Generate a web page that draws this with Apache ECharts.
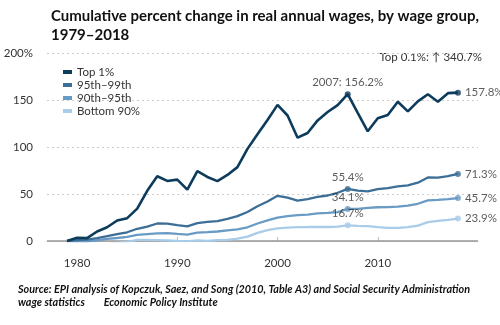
<!DOCTYPE html>
<html><head><meta charset="utf-8">
<script src="https://cdn.jsdelivr.net/npm/echarts@6/dist/echarts.min.js"></script>
<style>html,body{margin:0;padding:0;background:#fff}#c{width:500px;height:325px}</style>
</head><body><div id="c"></div>
<script>
const years = [];
for (let y = 1979; y <= 2018; y++) years.push(y);
const top1 = [0,3.5,3.1,10.1,14.6,21.8,24.3,34.4,53.4,68.9,63.9,65.3,54.7,74.3,68.1,63.7,70.3,78.6,98.0,113.5,128.8,144.8,133.5,109.9,114.9,128.3,137.2,144.6,156.2,136.2,116.7,130.5,134.1,148.2,137.9,148.6,156.1,148.2,157.3,157.8];
const p95_99 = [0,0.9,1.5,3.0,5.1,7.4,9.3,13.0,15.3,18.6,18.4,16.9,15.6,19.1,20.4,21.2,23.6,26.5,30.9,37.0,42.0,48.1,46.2,42.9,44.5,46.9,48.4,51.3,55.4,53.6,52.9,55.1,56.3,58.0,59.2,62.0,67.6,67.5,69.0,71.3];
const p90_95 = [0,-0.5,-0.5,0.8,2.2,3.2,4.5,6.6,7.4,8.2,8.3,7.5,6.8,8.9,9.4,10.1,11.4,12.4,14.6,18.6,21.9,24.9,26.4,27.6,28.0,29.4,29.9,30.7,34.1,34.1,35.3,35.9,36.1,36.6,37.6,39.6,43.3,43.7,44.5,45.7];
const bottom90 = [0,-1.6,-2.3,-3.3,-3.5,-1.9,-0.9,1.1,1.1,1.0,0.6,0.0,-0.4,0.7,0.2,0.9,1.3,2.6,4.6,8.6,11.5,13.5,14.3,14.8,14.9,15.1,14.9,15.2,16.7,16.0,15.9,14.7,14.0,14.0,14.7,16.3,20.1,21.3,22.5,23.9];
const seriesNames = ['Top 1%','95th\u201399th','90th\u201395th','Bottom 90%'];
const xTicks = [1980,1990,2000,2010];
const yTicks = [0,50,100,150,200];
const colors = ['#0d3b5c','#3d6e95','#6a9bc4','#a9cce9'];
const widths = [2.6,2.3,2.3,2.3];
const allData = [top1,p95_99,p90_95,bottom90];

const font = 'Lato, "Open Sans", sans-serif';
const chart = echarts.init(document.getElementById('c'), null, {renderer:'canvas'});
const series = [];
allData.forEach((arr,i)=>{
  series.push({
    name: seriesNames[i], type:'line', data: years.map((y,k)=>[y,arr[k]]),
    symbol:'none', lineStyle:{color:colors[i], width:widths[i]}, itemStyle:{color:colors[i]},
    z: 10-i, animation:false
  });
});
const idx2007 = years.indexOf(2007), idxEnd = years.length-1;
allData.forEach((arr,i)=>{
  series.push({
    type:'scatter', symbol:'circle', symbolSize:6, itemStyle:{color:colors[i]}, z:20, animation:false,
    data:[
      {value:[2007,arr[idx2007]], label:{show:true, position:'top', distance:3,
        formatter: i===0 ? '2007: ' + arr[idx2007].toFixed(1) + '%' : arr[idx2007].toFixed(1) + '%'}},
      {value:[2018,arr[idxEnd]], label:{show:true, position:'right', distance:4,
        formatter: arr[idxEnd].toFixed(1) + '%'}}
    ],
    label:{color:'#333', fontSize:11.5, fontFamily:font}
  });
});
series[0].markLine = {silent:true, symbol:'none', label:{show:false},
  lineStyle:{color:'#999', type:'solid', width:1.5}, data:[{yAxis:0}], z:1};

chart.setOption({
  animation:false,
  color: colors,
  title:{
    text:'Cumulative percent change in real annual wages, by wage group,\n1979\u20132018',
    left:46, top:2,
    textStyle:{fontFamily:'Lato, sans-serif', fontWeight:'bold', fontSize:15, color:'#111', lineHeight:19}
  },
  legend:{
    data: seriesNames, orient:'vertical', left:58, top:61, itemGap:1,
    itemWidth:9, itemHeight:4, icon:'rect',
    textStyle:{fontFamily:font, fontSize:11.5, color:'#333'}
  },
  grid:{left:47, right:22, top:53, bottom:84},
  xAxis:{
    type:'value', min:1977, max:2020, offset:10,
    axisLine:{show:true, lineStyle:{color:'#ccc', type:'dotted', width:1}},
    axisTick:{show:true, customValues:xTicks, length:4, inside:true, lineStyle:{color:'#bbb'}},
    axisLabel:{customValues:xTicks, fontFamily:font, fontSize:11.5, color:'#333', margin:6,
      formatter:v=>String(v)},
    splitLine:{show:false}
  },
  yAxis:{
    type:'value', min:0, max:200, interval:50,
    axisLine:{show:false}, axisTick:{show:false},
    axisLabel:{fontFamily:font, fontSize:11.5, color:'#333', margin:14,
      formatter:v=> v===200 ? '200%' : String(v)},
    splitLine:{lineStyle:{color:'#ccc', type:[2,3], width:1.2}}
  },
  graphic:[
    {type:'text', right:18, top:51, style:{text:'Top 0.1%: \u2191 340.7%', fontFamily:font, fontSize:11.5, fill:'#333'}},
    {type:'text', left:18, top:283, style:{text:'Source: EPI analysis of Kopczuk, Saez, and Song (2010, Table A3) and Social Security Administration\nwage statistics        Economic Policy Institute', fontFamily:font, fontStyle:'italic', fontWeight:'bold', fontSize:10.8, lineHeight:13, fill:'#111'}}
  ],
  series: series
});
</script></body></html>
